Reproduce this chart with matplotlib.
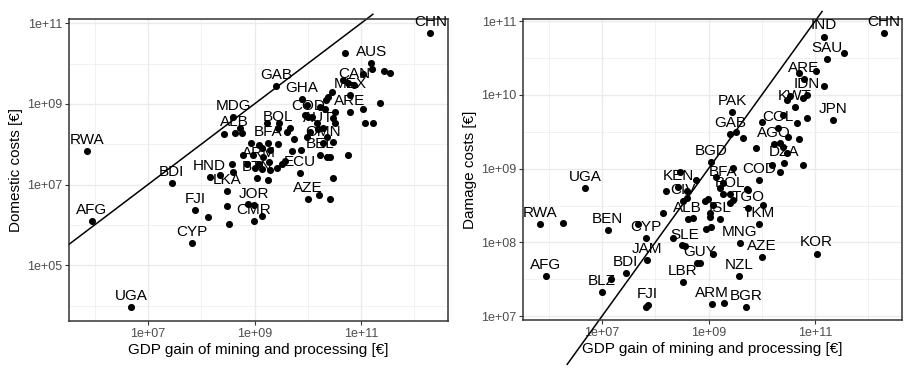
# scatter of mining GDP gain against domestic and damage costs (log-log)

import numpy as np
import matplotlib
matplotlib.use('Agg')
import matplotlib.pyplot as plt

plt.rcParams['font.family'] = ['Liberation Sans', 'DejaVu Sans']

# ---- left panel: labelled countries (log10 values) ----
left_codes = ['CHN', 'AUS', 'CAN', 'MEX', 'ARE', 'GAB', 'GHA', 'COD', 'AUT', 'OMN',
              'BEL', 'MDG', 'ALB', 'BOL', 'BFA', 'ARM', 'BTN', 'ECU', 'HND', 'LKA',
              'BDI', 'RWA', 'AFG', 'FJI', 'CYP', 'UGA', 'JOR', 'CMR', 'AZE']
left_gdp = [12.30, 11.19, 10.87, 10.79, 10.79, 9.40, 9.89, 10.00, 10.19, 10.29,
            10.23, 8.60, 8.63, 9.44, 9.25, 9.08, 9.05, 9.85, 8.16, 8.48,
            7.45, 5.85, 5.95, 7.88, 7.83, 6.68, 8.99, 8.99, 10.00]
left_cost = [10.75, 10.01, 9.47, 9.22, 8.80, 9.44, 9.12, 8.67, 8.38, 8.03,
             7.73, 8.67, 8.28, 8.40, 8.03, 7.51, 7.16, 7.29, 7.19, 6.84,
             7.04, 7.83, 6.10, 6.37, 5.55, 3.97, 6.50, 6.10, 6.64]

# left panel: unlabelled countries (log10 values)
left_other_gdp = [10.70, 11.21, 11.43, 11.54, 11.04, 10.66, 10.76, 10.46, 10.38, 10.34,
                  11.36, 11.04, 10.51, 11.08, 11.23, 9.99, 10.23, 10.32, 9.95, 10.08,
                  10.47, 10.51, 10.17, 10.29, 10.04, 9.99, 10.36, 10.47, 10.76, 10.36,
                  10.42, 10.47, 10.21, 10.42, 8.43, 8.73, 8.77, 9.23, 9.46, 9.61,
                  9.67, 9.74, 9.44, 8.93, 9.08, 9.14, 9.29, 8.78, 8.97, 9.16,
                  8.86, 9.01, 9.27, 9.29, 9.14, 9.70, 9.87, 9.42, 9.52, 9.57,
                  9.25, 8.58, 8.35, 8.48, 8.52, 8.88, 9.14, 8.13, 8.60]
left_other_cost = [10.26, 9.86, 9.81, 9.76, 9.74, 9.59, 9.51, 9.29, 9.17, 9.09,
                   9.02, 8.87, 8.80, 8.52, 8.52, 8.97, 8.92, 8.87, 8.72, 8.67,
                   8.65, 8.52, 8.52, 8.40, 8.30, 8.18, 8.18, 8.05, 7.73, 7.68,
                   7.68, 7.16, 6.74, 6.64, 8.25, 8.40, 8.28, 8.52, 8.52, 8.30,
                   8.40, 8.13, 8.00, 8.03, 7.98, 7.91, 7.86, 7.73, 7.73, 7.68,
                   7.51, 7.41, 7.56, 7.36, 7.39, 7.83, 7.86, 7.41, 7.51, 7.58,
                   7.11, 7.51, 7.24, 6.47, 6.02, 6.52, 6.22, 6.20, 7.31]

# ---- right panel: labelled countries (log10 values) ----
right_codes = ['CHN', 'IND', 'SAU', 'ARE', 'IDN', 'KWT', 'JPN', 'PAK', 'COL', 'GAB',
               'AGO', 'DZA', 'BGD', 'BFA', 'COD', 'BOL', 'KEN', 'CIV', 'ALB', 'ISL',
               'TGO', 'TKM', 'MNG', 'AZE', 'KOR', 'NZL', 'ARM', 'BGR', 'LBR', 'GUY',
               'SLE', 'JAM', 'CYP', 'BDI', 'BLZ', 'FJI', 'AFG', 'RWA', 'BEN', 'UGA']
right_gdp = [12.29, 11.17, 11.22, 10.79, 10.85, 10.62, 11.33, 9.44, 10.30, 9.40,
             10.23, 10.41, 9.05, 9.27, 9.95, 9.40, 8.43, 8.52, 8.61, 9.21,
             9.74, 9.95, 9.59, 10.00, 11.03, 9.57, 9.06, 9.70, 8.52, 8.84,
             8.56, 7.84, 7.83, 7.45, 7.00, 7.86, 5.95, 5.84, 7.11, 6.68]
right_cost = [10.84, 10.79, 10.49, 10.22, 10.00, 9.84, 9.66, 9.77, 9.55, 9.47,
              9.33, 9.08, 9.09, 8.80, 8.85, 8.66, 8.75, 8.56, 8.32, 8.32,
              8.47, 8.25, 7.99, 7.80, 7.85, 7.54, 7.16, 7.12, 7.46, 7.72,
              7.95, 7.76, 8.06, 7.58, 7.33, 7.15, 7.54, 8.25, 8.17, 8.74]

# right panel: unlabelled countries (log10 values)
right_other_gdp = [11.54, 10.70, 11.02, 11.17, 10.47, 10.53, 10.77, 10.00, 10.40, 10.66,
                   10.85, 9.51, 9.65, 10.49, 10.70, 10.34, 10.40, 9.89, 10.47, 10.77,
                   9.14, 9.46, 10.19, 10.34, 8.46, 8.20, 8.76, 8.59, 8.59, 8.99,
                   8.93, 8.14, 7.68, 6.27, 7.17, 7.83, 8.33, 8.50, 9.08, 8.78,
                   9.29, 8.71, 9.03, 8.95, 9.05, 9.08, 9.40, 9.46, 10.02, 9.27,
                   9.72, 9.21, 9.03, 9.74]
right_other_cost = [10.57, 10.30, 10.32, 10.12, 9.93, 9.99, 9.96, 9.63, 9.73, 9.62,
                    9.69, 9.50, 9.42, 9.43, 9.40, 9.35, 9.29, 9.28, 9.21, 9.05,
                    8.89, 9.01, 9.05, 8.95, 8.95, 8.70, 8.85, 8.70, 8.60, 8.59,
                    8.56, 8.40, 8.25, 8.26, 7.50, 7.12, 8.06, 7.96, 7.84, 7.72,
                    7.18, 8.33, 8.34, 8.18, 8.21, 8.51, 8.53, 8.57, 8.51, 8.66,
                    8.72, 8.74, 8.40, 8.71]

# extent of the cost = gain reference line (log10 of gdp gain)
left_diag = [5.52, 11.22]
right_diag = [6.35, 11.13]

# axis limits (log10) and breaks
x_lim = [5.52, 12.63]
x_major = [7, 9, 11]
x_minor = [6, 8, 10, 12]
left_ylim = [3.62, 11.10]
left_major = [5, 7, 9, 11]
left_minor = [4, 6, 8, 10]
right_ylim = [6.95, 11.03]
right_major = [7, 8, 9, 10, 11]
right_minor = [7.5, 8.5, 9.5, 10.5]


def sci_label(e):
    return '1e+%02d' % e


def draw_panel(ax, codes, gdp, cost, other_gdp, other_cost, diag, ylim,
               ymajor, yminor, ylabel):
    """ Draw one log-log scatter panel in a ggplot theme_bw look """
    ax.set_xscale('log')
    ax.set_yscale('log')
    ax.set_xlim(10 ** x_lim[0], 10 ** x_lim[1])
    ax.set_ylim(10 ** ylim[0], 10 ** ylim[1])

    # breaks and gridlines
    ax.set_xticks([10.0 ** e for e in x_major])
    ax.set_xticklabels([sci_label(e) for e in x_major])
    ax.set_xticks([10.0 ** e for e in x_minor], minor=True)
    ax.set_xticklabels([''] * len(x_minor), minor=True)
    ax.set_yticks([10.0 ** e for e in ymajor])
    ax.set_yticklabels([sci_label(e) for e in ymajor])
    ax.set_yticks([10.0 ** e for e in yminor], minor=True)
    ax.set_yticklabels([''] * len(yminor), minor=True)
    ax.grid(True, which='major', color='#EBEBEB', lw=1.0)
    ax.grid(True, which='minor', color='#EBEBEB', lw=0.5)
    ax.set_axisbelow(True)
    ax.tick_params(which='major', direction='out', length=3, width=0.8,
                   color='#333333', labelcolor='#4D4D4D', labelsize=9, pad=2)
    ax.tick_params(which='minor', length=0)
    for sp in ax.spines.values():
        sp.set_color('#333333')
        sp.set_linewidth(1.1)

    # reference line: costs equal to gdp gain
    dx = np.array([10.0 ** v for v in diag])
    ax.plot(dx, dx, color='black', lw=1.1, clip_on=False, zorder=2)

    # points
    ax.scatter(10.0 ** np.array(other_gdp), 10.0 ** np.array(other_cost),
               s=26, color='black', linewidths=0, zorder=4, clip_on=False)
    ax.scatter(10.0 ** np.array(gdp), 10.0 ** np.array(cost),
               s=26, color='black', linewidths=0, zorder=4, clip_on=False)

    # country codes above their points
    for code, gx, cy in zip(codes, gdp, cost):
        ax.annotate(code, (10.0 ** gx, 10.0 ** cy), xytext=(0, 8),
                    textcoords='offset points', ha='center', va='center',
                    fontsize=11, color='black', zorder=3)

    ax.set_xlabel('GDP gain of mining and processing [€]', fontsize=11, labelpad=2)
    ax.set_ylabel(ylabel, fontsize=11, labelpad=3)


fig = plt.figure(figsize=(9.14, 3.75), dpi=100)
ax1 = fig.add_axes([0.0755, 0.144, 0.4147, 0.805])
ax2 = fig.add_axes([0.5722, 0.1467, 0.4147, 0.803])

draw_panel(ax1, left_codes, left_gdp, left_cost, left_other_gdp, left_other_cost,
           left_diag, left_ylim, left_major, left_minor, 'Domestic costs [€]')
draw_panel(ax2, right_codes, right_gdp, right_cost, right_other_gdp, right_other_cost,
           right_diag, right_ylim, right_major, right_minor, 'Damage costs [€]')

fig.savefig('out.png', dpi=100)
